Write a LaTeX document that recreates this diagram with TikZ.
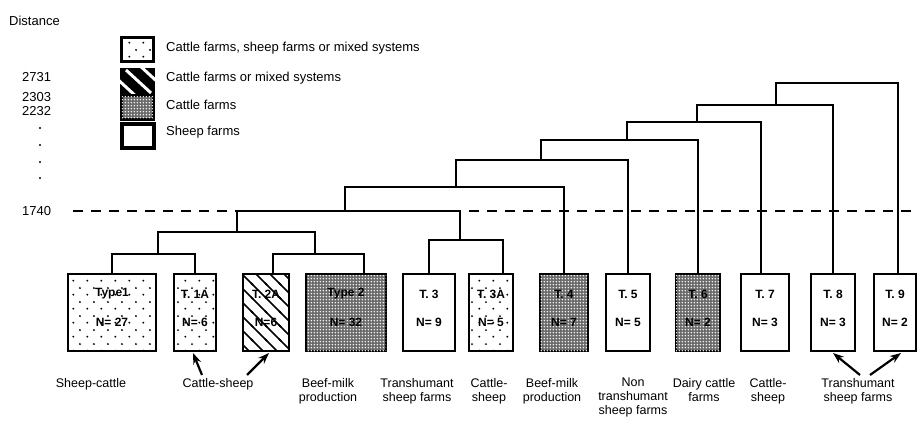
\documentclass[tikz,border=0pt]{standalone}
\usepackage{fontspec}
\setmainfont{Liberation Sans}
\usetikzlibrary{patterns,arrows.meta,calc}

\pgfdeclarepatternformonly{sparsedots}{\pgfpoint{0pt}{0pt}}{\pgfpoint{14pt}{14pt}}{\pgfpoint{14pt}{14pt}}{%
  \pgfpathcircle{\pgfpoint{3.5pt}{3.5pt}}{1.1pt}%
  \pgfpathcircle{\pgfpoint{10.5pt}{10.5pt}}{1.1pt}%
  \pgfusepath{fill}}
\pgfdeclarepatternformonly{widehatch}{\pgfpoint{-1pt}{-1pt}}{\pgfpoint{15pt}{15pt}}{\pgfpoint{14pt}{14pt}}{%
  \pgfsetlinewidth{1.6pt}%
  \pgfpathmoveto{\pgfpoint{0pt}{14pt}}\pgfpathlineto{\pgfpoint{14pt}{0pt}}%
  \pgfpathmoveto{\pgfpoint{-1pt}{1pt}}\pgfpathlineto{\pgfpoint{1pt}{-1pt}}%
  \pgfpathmoveto{\pgfpoint{13pt}{15pt}}\pgfpathlineto{\pgfpoint{15pt}{13pt}}%
  \pgfusepath{stroke}}
\pgfdeclarepatternformonly{densedots}{\pgfpoint{0pt}{0pt}}{\pgfpoint{3.2pt}{3.2pt}}{\pgfpoint{3.2pt}{3.2pt}}{%
  \pgfpathcircle{\pgfpoint{1.6pt}{1.6pt}}{0.95pt}%
  \pgfusepath{fill}}

\begin{document}
\begin{tikzpicture}[x=1pt,y=-1pt,
  conn/.style={line width=2.2pt,line cap=rect},
  cutline/.style={line width=2pt,dash pattern=on 10pt off 8pt},
  fbox/.style={draw,line width=2pt,minimum height=77pt,inner sep=0pt,anchor=north west,fill=white},
  sparse/.style={fbox,postaction={pattern=sparsedots}},
  hatch/.style={fbox,postaction={pattern=widehatch}},
  dense/.style={fbox,fill=black!58,postaction={pattern=densedots,pattern color=white}},
  plain/.style={fbox},
  btxt/.style={font=\fontsize{12}{14}\selectfont\bfseries,inner sep=0pt},
  lbl/.style={font=\fontsize{12.5}{14}\selectfont,align=center,anchor=north,inner sep=0pt},
  axis/.style={font=\fontsize{13}{15}\selectfont,anchor=west,inner sep=0pt},
  legtxt/.style={font=\fontsize{13}{15}\selectfont,anchor=west,inner sep=0pt},
  legbox/.style={draw,line width=3pt,minimum width=32pt,minimum height=24pt,inner sep=0pt,anchor=north west},
  arr/.style={line width=2.2pt,-{Stealth[length=11pt,width=8pt]}}
]
\useasboundingbox (0,0) rectangle (917,438);

% ---- distance axis
\node[axis] (dist) at (9,21) {Distance};
\node[axis] (v1) at (22,77) {2731};
\node[axis] (v2) at (22,97) {2303};
\node[axis] (v3) at (22,111) {2232};
\foreach \yy in {128,145,162,178} \fill (40,\yy) circle (1.2pt);
\node[axis] (v4) at (22,211) {1740};

% ---- legend
\node[legbox,fill=white,postaction={pattern=sparsedots}] (g1) at (120,36) {};
\node[legbox,fill=black] (g2) at (120,68) {};
\begin{scope}
  \clip (g2.north west) rectangle (g2.south east);
  \draw[white,line width=3pt] ($(g2.north west)+(6,2)$) -- ($(g2.south east)+(-4,-2)$);
  \draw[white,line width=3pt] ($(g2.north west)+(-6,8)$) -- ($(g2.south east)+(-16,4)$);
  \draw[white,line width=3pt] ($(g2.north west)+(18,-4)$) -- ($(g2.south east)+(8,-8)$);
\end{scope}
\node[legbox,fill=black!58,postaction={pattern=densedots,pattern color=white}] (g3) at (120,94) {};
\node[legbox,fill=white,line width=4pt] (g4) at (120,122) {};
\node[legtxt] (gt1) at (166,48) {Cattle farms, sheep farms or mixed systems};
\node[legtxt] (gt2) at (166,78) {Cattle farms or mixed systems};
\node[legtxt] (gt3) at (166,105) {Cattle farms};
\node[legtxt] (gt4) at (166,132) {Sheep farms};

% ---- cut line
\coordinate (dl) at (73,211);
\coordinate (dr) at (917,211);
\draw[cutline] (dl) -- (dr);

% ---- boxes
\node[sparse,minimum width=88pt] (b1) at (67,273) {};
\node[sparse,minimum width=42pt] (b2) at (173,273) {};
\node[hatch,minimum width=46pt] (b3) at (242,273) {};
\node[dense,minimum width=80pt] (b4) at (305,273) {};
\node[plain,minimum width=52pt] (b5) at (402,273) {};
\node[sparse,minimum width=44pt] (b6) at (468,273) {};
\node[dense,minimum width=48pt] (b7) at (539,273) {};
\node[plain,minimum width=44pt] (b8) at (605,273) {};
\node[dense,minimum width=44pt] (b9) at (675,273) {};
\node[plain,minimum width=48pt] (b10) at (740,273) {};
\node[plain,minimum width=44pt] (b11) at (810,273) {};
\node[plain,minimum width=42pt] (b12) at (873,273) {};

\foreach \b/\ta/\tb in {b1/Type1/N= 27, b2/T. 1A/N= 6, b3/T. 2A/N=6, b4/Type 2/N= 32,
   b5/T. 3/N= 9, b6/T. 3A/N= 5, b7/T. 4/N= 7, b8/T. 5/N= 5, b9/T. 6/N= 2,
   b10/T. 7/N= 3, b11/T. 8/N= 3, b12/T. 9/N= 2}{
  \node[btxt] at ($(\b.north)+(0,21)$) {\ta};
  \node[btxt] at ($(\b.north)+(0,49)$) {\tb};
}

% ---- dendrogram joints
\coordinate (jA) at (158,254);
\coordinate (jB) at (315,254);
\coordinate (jAB) at (237,232);
\coordinate (jC) at (460,240);
\coordinate (jABC) at (345,211);
\coordinate (jD) at (456,187);
\coordinate (jE) at (541,160);
\coordinate (jF) at (627,140);
\coordinate (jG) at (697,122);
\coordinate (jH) at (776,105);
\coordinate (jI) at (840,83);

\draw[conn] (b1.north) |- (jA) -| (b2.north);
\draw[conn] ($(b3.north)+(7,0)$) |- (jB) -| ($(b4.north)+(18,0)$);
\draw[conn] (jA) |- (jAB) -| (jB);
\draw[conn] (b5.north) |- (jC) -| ($(b6.north)+(12,0)$);
\draw[conn] (jAB) |- (jABC) -| (jC);
\draw[conn] (jABC) |- (jD) -| (b7.north);
\draw[conn] (jD) |- (jE) -| (b8.north);
\draw[conn] (jE) |- (jF) -| (b9.north);
\draw[conn] (jF) |- (jG) -| ($(b10.north)+(-4,0)$);
\draw[conn] (jG) |- (jH) -| (b11.north);
\draw[conn] (jH) |- (jI) -| ($(b12.north)+(3,0)$);

% ---- labels
\node[lbl] (l1) at (91,378) {Sheep-cattle};
\node[lbl] (l2) at (218,378) {Cattle-sheep};
\node[lbl] (l3) at (328,378) {Beef-milk\\production};
\node[lbl] (l4) at (417,378) {Transhumant\\sheep farms};
\node[lbl] (l5) at (489,378) {Cattle-\\sheep};
\node[lbl] (l6) at (552,378) {Beef-milk\\production};
\node[lbl] (l7) at (633,378) {Non\\transhumant\\sheep farms};
\node[lbl] (l8) at (704,378) {Dairy cattle\\farms};
\node[lbl] (l9) at (768,378) {Cattle-\\sheep};
\node[lbl] (l10) at (858,378) {Transhumant\\sheep farms};

% ---- arrows
\draw[arr] ($(l2.north)+(-16,-3)$) -- ($(b2.south)+(-2,1)$);
\draw[arr] ($(l2.north)+(29,-3)$) -- ($(b3.south)+(3,1)$);
\draw[arr] ($(l10.north)+(2,-3)$) -- ($(b11.south)+(0,1)$);
\draw[arr] ($(l10.north)+(12,-3)$) -- ($(b12.south)+(6,1)$);
\end{tikzpicture}
\end{document}
